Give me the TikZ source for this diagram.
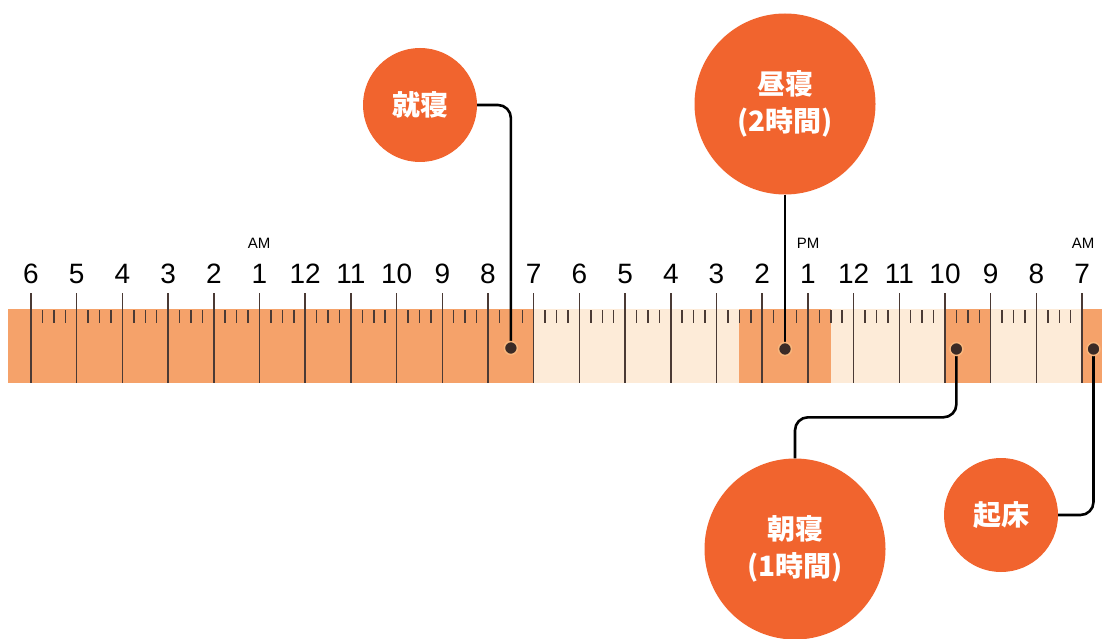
\documentclass[tikz,border=0pt]{standalone}
\usepackage{fontspec}
\setmainfont{Liberation Sans}
\newfontfamily\cjk{Noto Sans CJK JP}
\definecolor{bandDark}{HTML}{F5A26A}
\definecolor{bandLight}{HTML}{FDEBD8}
\definecolor{tickCol}{HTML}{4A3A35}
\definecolor{circOrange}{HTML}{F1642E}
\definecolor{dotCol}{HTML}{3B2B26}
\definecolor{dotRing}{HTML}{F9B67C}
\tikzset{
  hourline/.style={draw=tickCol, line width=1.5pt},
  minortick/.style={draw=tickCol, line width=1.5pt},
  hourlabel/.style={anchor=base, inner sep=0pt, font=\fontsize{28}{28}\selectfont},
  ampm/.style={anchor=base, inner sep=0pt, font=\fontsize{15}{15}\selectfont},
  bubble/.style={circle, fill=circOrange, inner sep=0pt, text=white, align=center,
    font=\cjk\bfseries\fontsize{28}{37}\selectfont},
  dotmark/.style={circle, fill=dotCol, draw=dotRing, line width=1.5pt, minimum size=13pt, inner sep=0pt},
  connector/.style={draw=black, line width=2.6pt, rounded corners=13pt}
}
\begin{document}
\begin{tikzpicture}[x=1pt,y=-1pt]
\useasboundingbox (0,0) rectangle (1102,639);
\fill[white] (0,0) rectangle (1102,639);
% band
\fill[bandLight] (8,309) rectangle (1102,383);
\fill[bandDark] (8,309) rectangle (533.7,383);
\fill[bandDark] (739.4,309) rectangle (830.8,383);
\fill[bandDark] (945,309) rectangle (990.7,383);
\fill[bandDark] (1082.1,309) rectangle (1102,383);
% minor ticks
\foreach \i in {0,...,22}{
  \foreach \q in {0.25,0.5,0.75}{
    \draw[minortick] ({31+45.7*(\i+\q)},310) -- ({31+45.7*(\i+\q)},323);
  }
}
% hour lines and labels
\foreach \lab [count=\c from 0] in {6,5,4,3,2,1,12,11,10,9,8,7,6,5,4,3,2,1,12,11,10,9,8,7}{
  \draw[hourline] ({31+45.7*\c},293) -- ({31+45.7*\c},383);
  \node[hourlabel] (h\c) at ({31+45.7*\c},283) {\lab};
}
\node[ampm] (am1) at (259,248) {AM};
\node[ampm] (pm1) at (808,248) {PM};
\node[ampm] (am2) at (1083,248) {AM};
% bubbles
\node[bubble, minimum size=114pt] (shushin) at (420,105) {就寝};
\node[bubble, minimum size=181pt] (hirune) at (785,104) {昼寝\\(2時間)};
\node[bubble, minimum size=181pt] (asane) at (795,549) {朝寝\\(1時間)};
\node[bubble, minimum size=114pt] (kisho) at (1001,515) {起床};
% dot positions
\coordinate (d1) at (510.9,348);
\coordinate (d2) at (785,349);
\coordinate (d3) at (956.4,349);
\coordinate (d4) at (1093.5,349);
% connectors
\draw[connector] (shushin.east) -| (d1);
\draw[connector] (hirune.south) -- (d2);
\draw[connector] (asane.north) -- ++(0,-41) -| (d3);
\draw[connector] (kisho.east) -| (d4);
% dots
\node[dotmark] (m1) at (d1) {};
\node[dotmark] (m2) at (d2) {};
\node[dotmark] (m3) at (d3) {};
\node[dotmark] (m4) at (d4) {};
\end{tikzpicture}
\end{document}
